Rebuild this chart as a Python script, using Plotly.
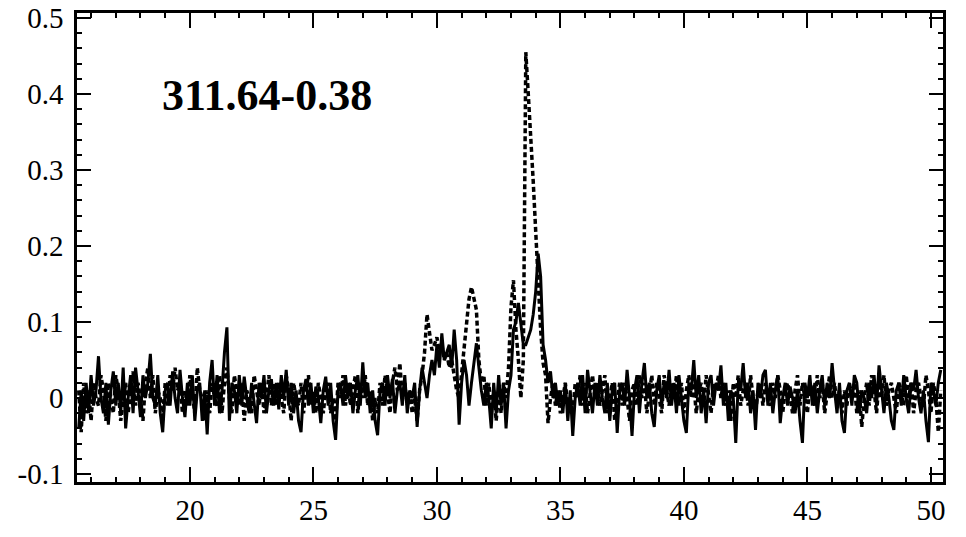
import numpy as np
import plotly.graph_objects as go

# velocity channels (km/s), 0.1 km/s spacing
v_start = 15.5
v_step = 0.1

# solid spectrum
solid = [
    -0.04, 0.01, -0.03, 0.02, -0.02, 0.03, -0.01, 0.01, 0.055, 0.00,
    -0.02, 0.02, -0.035, 0.01, 0.035, -0.01, 0.02, -0.02, 0.04, -0.04,
    0.00, 0.03, -0.02, 0.04, 0.01, -0.025, 0.03, 0.00, 0.02, 0.058,
    0.00, -0.01, 0.03, -0.02, -0.045, 0.01, 0.02, -0.01, 0.035, 0.00,
    -0.02, 0.037, 0.00, -0.025, 0.02, -0.01, 0.03, -0.03, 0.01, 0.02,
    -0.03, 0.01, -0.048, 0.02, 0.05, -0.01, 0.03, -0.02, 0.01, 0.06,
    0.093, -0.03, 0.02, 0.01, -0.02, 0.03, -0.01, 0.028, 0.00, -0.02,
    0.02, -0.01, -0.033, 0.02, 0.00, 0.03, -0.02, 0.01, 0.025, -0.01,
    0.02, -0.015, 0.03, 0.00, 0.037, -0.01, 0.02, -0.02, 0.01, -0.03,
    -0.045, 0.01, 0.025, -0.01, 0.02, -0.02, 0.015, 0.00, -0.033, 0.01,
    0.028, -0.01, 0.02, -0.03, -0.055, 0.01, 0.02, -0.01, 0.03, 0.00,
    0.02, -0.02, 0.01, 0.03, -0.01, 0.047, 0.00, 0.02, -0.02, 0.01,
    -0.03, -0.049, 0.01, 0.02, -0.01, 0.03, 0.00, 0.025, -0.02, 0.01,
    0.02, -0.01, 0.03, -0.02, 0.01, 0.00, 0.02, -0.038, 0.01, 0.04,
    0.02, 0.00, 0.03, 0.05, 0.03, 0.07, 0.04, 0.085, 0.05, 0.06,
    0.07, 0.04, 0.09, 0.05, -0.035, 0.02, 0.05, 0.03, -0.01, 0.02,
    0.05, 0.072, 0.04, 0.01, -0.01, 0.02, 0.00, -0.04, 0.02, -0.02,
    0.03, -0.01, 0.02, -0.04, 0.01, 0.03, 0.09, 0.10, 0.125, 0.10,
    0.07, 0.07, 0.08, 0.09, 0.11, 0.14, 0.19, 0.16, 0.07, 0.05,
    0.02, 0.035, 0.00, 0.02, -0.01, 0.01, -0.02, 0.02, -0.03, 0.01,
    -0.05, 0.00, 0.02, -0.01, 0.03, -0.02, 0.037, 0.01, -0.02, 0.02,
    -0.01, 0.03, 0.00, -0.02, 0.02, -0.03, 0.01, 0.02, -0.046, 0.01,
    0.02, -0.01, 0.037, 0.00, -0.05, 0.01, 0.03, -0.02, 0.02, 0.046,
    0.00, 0.02, -0.02, -0.038, 0.01, 0.03, -0.01, 0.02, 0.00, 0.037,
    -0.01, 0.02, -0.02, 0.03, 0.00, -0.03, -0.046, 0.02, 0.01, 0.05,
    0.00, 0.03, -0.02, 0.01, -0.033, 0.02, 0.03, -0.01, 0.02, 0.01,
    0.043, -0.01, 0.02, -0.03, 0.01, 0.00, -0.059, 0.02, 0.01, 0.046,
    0.00, 0.02, -0.02, 0.01, -0.042, 0.02, 0.00, 0.03, 0.037, -0.01,
    0.02, -0.02, 0.01, 0.03, -0.033, 0.00, 0.02, -0.01, 0.015, 0.00,
    -0.02, 0.01, -0.03, -0.059, 0.02, 0.00, 0.03, -0.01, 0.02, -0.02,
    0.01, 0.03, -0.01, 0.02, 0.00, 0.046, 0.01, -0.02, 0.02, -0.03,
    -0.046, 0.01, 0.02, -0.01, 0.03, 0.02, -0.02, 0.01, 0.00, -0.02,
    0.02, 0.00, 0.03, -0.01, 0.043, 0.01, -0.02, 0.02, 0.00, -0.03,
    -0.042, 0.01, 0.02, -0.01, 0.03, 0.00, -0.02, 0.02, 0.01, 0.037,
    0.00, -0.02, 0.01, -0.03, -0.058, 0.02, 0.01, -0.01, 0.02, 0.037,
]

# dotted spectrum
dotted = [
    0.01, -0.045, 0.02, -0.02, 0.01, -0.03, 0.02, 0.00, -0.01, 0.03,
    0.01, -0.03, 0.02, 0.00, -0.02, 0.03, 0.01, -0.03, 0.00, 0.02,
    -0.02, 0.01, 0.035, -0.01, 0.02, 0.00, -0.03, 0.02, 0.04, 0.00,
    0.03, -0.02, 0.01, 0.00, -0.03, 0.02, -0.01, 0.03, 0.01, 0.04,
    0.01, 0.02, -0.02, 0.01, -0.01, 0.03, 0.00, -0.02, 0.04, 0.01,
    0.00, -0.03, 0.01, -0.02, 0.02, 0.00, -0.01, 0.03, -0.02, 0.02,
    0.04, 0.00, -0.02, 0.03, 0.01, -0.01, 0.02, -0.03, 0.01, 0.00,
    -0.02, 0.03, 0.01, -0.01, 0.02, -0.02, 0.00, 0.03, -0.01, 0.02,
    -0.01, 0.02, 0.00, -0.02, 0.03, 0.01, -0.03, 0.02, 0.00, -0.01,
    0.02, -0.02, 0.01, 0.03, -0.01, 0.01, -0.02, 0.02, 0.00, -0.02,
    0.01, 0.02, -0.02, 0.00, -0.03, 0.02, 0.00, 0.03, -0.01, 0.02,
    -0.01, 0.01, 0.03, -0.02, 0.02, 0.00, 0.03, -0.01, 0.01, -0.03,
    0.00, -0.02, 0.02, -0.01, 0.03, 0.01, -0.02, 0.02, 0.04, 0.01,
    0.046, 0.00, 0.02, -0.01, 0.01, -0.02, 0.00, -0.03, 0.01, 0.03,
    0.06, 0.11, 0.09, 0.063, 0.07, 0.08, 0.06, 0.07, 0.05, 0.06,
    0.04, 0.05, 0.03, 0.01, 0.00, 0.03, 0.07, 0.10, 0.13, 0.146,
    0.13, 0.116, 0.05, 0.02, 0.03, -0.01, 0.02, -0.02, 0.01, -0.03,
    0.01, -0.02, 0.02, 0.00, 0.04, 0.12, 0.155, 0.09, 0.05, 0.00,
    0.05, 0.455, 0.40, 0.35, 0.285, 0.22, 0.15, 0.09, 0.046, 0.03,
    -0.033, 0.00, 0.02, -0.01, 0.01, -0.02, 0.00, 0.02, -0.01, 0.00,
    -0.02, 0.02, 0.00, 0.03, -0.01, 0.02, -0.02, 0.01, 0.03, 0.00,
    0.02, -0.01, 0.01, 0.03, -0.02, 0.00, 0.02, -0.03, 0.00, 0.02,
    -0.01, 0.02, 0.00, -0.03, 0.01, 0.02, -0.01, 0.03, 0.00, 0.02,
    -0.02, 0.01, 0.03, -0.01, 0.02, 0.00, -0.02, 0.03, 0.01, -0.01,
    0.02, 0.00, 0.03, -0.01, 0.02, -0.02, 0.01, 0.03, 0.00, 0.02,
    -0.02, 0.01, 0.02, -0.01, 0.03, 0.00, -0.02, 0.02, 0.01, 0.03,
    0.00, 0.02, -0.01, 0.01, -0.03, 0.02, 0.00, 0.03, -0.01, 0.01,
    0.02, -0.01, 0.03, 0.00, -0.02, 0.01, 0.02, -0.01, 0.02, 0.00,
    -0.01, 0.02, 0.00, 0.03, 0.01, -0.02, 0.01, 0.02, 0.00, -0.02,
    0.01, 0.03, -0.01, 0.02, 0.00, -0.02, 0.02, 0.01, -0.01, 0.03,
    0.00, 0.02, -0.02, 0.01, 0.03, 0.00, 0.02, -0.01, 0.01, -0.02,
    0.01, -0.01, 0.02, 0.00, 0.02, -0.02, 0.01, -0.038, 0.00, 0.02,
    -0.01, 0.03, 0.01, -0.02, 0.02, 0.00, 0.03, -0.01, 0.01, 0.02,
    0.00, -0.02, 0.02, 0.01, -0.01, 0.03, 0.00, 0.02, -0.02, 0.01,
    0.02, 0.00, -0.01, 0.03, 0.01, -0.02, 0.02, 0.00, -0.045, 0.01,
]

source_name = "311.64-0.38"

velocity = np.round(v_start + v_step * np.arange(len(solid)), 2)

fig = go.Figure()

fig.add_trace(go.Scatter(
    x=velocity, y=dotted, mode="lines",
    line=dict(color="black", width=3.5, dash="5px,3px"),
    showlegend=False,
))
fig.add_trace(go.Scatter(
    x=velocity, y=solid, mode="lines",
    line=dict(color="black", width=3),
    showlegend=False,
))

fig.add_annotation(
    x=0.096, y=0.825, xref="paper", yref="paper",
    xanchor="left", yanchor="middle",
    text="<b>" + source_name + "</b>", showarrow=False,
    font=dict(family="Liberation Serif", size=44, color="black"),
)

axis_common = dict(
    showline=True, linecolor="black", linewidth=2.5,
    mirror="allticks", ticks="inside", tickcolor="black", tickwidth=2,
    showgrid=False, zeroline=False, automargin=False,
    tickfont=dict(family="Liberation Serif", size=29, color="black"),
)

fig.update_xaxes(
    range=[15.43, 50.49], tickmode="array",
    tickvals=[20, 25, 30, 35, 40, 45, 50], ticklen=15,
    ticklabelstandoff=0,
    minor=dict(dtick=1, tick0=0, ticks="inside", ticklen=5,
               tickcolor="black", tickwidth=2, showgrid=False),
    **axis_common,
)
fig.update_yaxes(
    range=[-0.1105, 0.5066], tickmode="array",
    tickvals=[-0.1, 0, 0.1, 0.2, 0.3, 0.4, 0.5],
    ticktext=["-0.1", "0", "0.1", "0.2", "0.3", "0.4", "0.5"], ticklen=14,
    ticklabelstandoff=5,
    minor=dict(dtick=0.02, tick0=0, ticks="inside", ticklen=5,
               tickcolor="black", tickwidth=2, showgrid=False),
    **axis_common,
)

fig.update_layout(
    width=966, height=537,
    margin=dict(l=77, r=23, t=13, b=55),
    plot_bgcolor="white", paper_bgcolor="white",
)

# drop the default 8px page margin so the figure fills the window exactly
fig.write_html("out.html", config={"displayModeBar": False},
               post_script="document.body.style.margin = '0';")
